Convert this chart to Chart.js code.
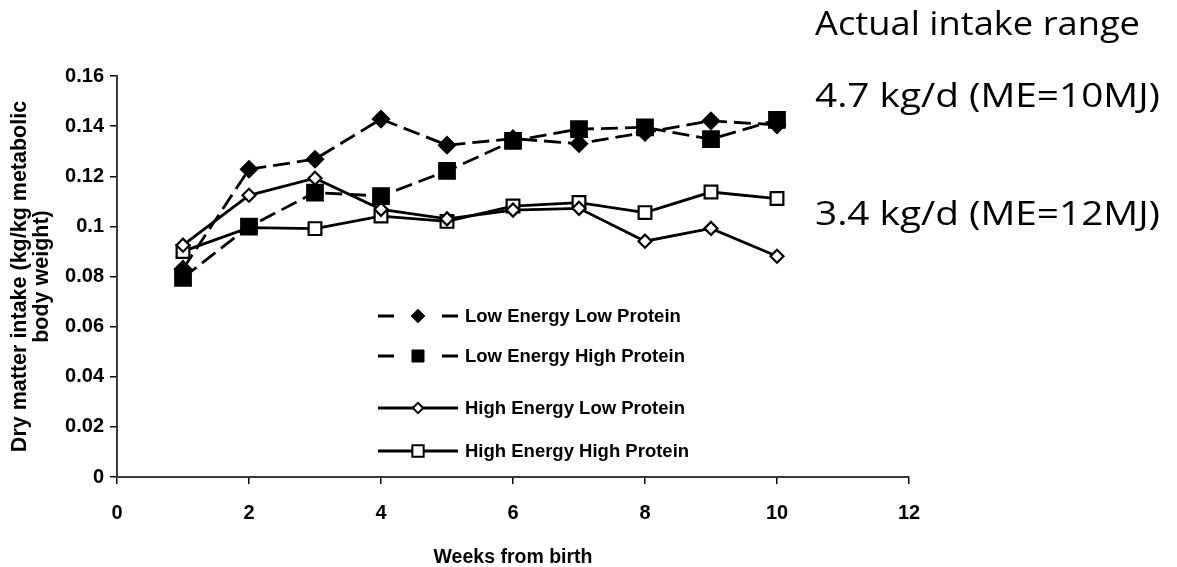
<!DOCTYPE html>
<html><head><meta charset="utf-8">
<script src="https://cdn.jsdelivr.net/npm/chart.js@4.4.1/dist/chart.umd.min.js"></script>
<style>html,body{margin:0;padding:0;background:#fff;overflow:hidden}#wrap{width:1177px;height:567px;position:relative}</style>
</head><body><div id="wrap"><canvas id="c" width="1177" height="567"></canvas></div>
<script>
const weeks = [1, 2, 3, 4, 5, 6, 7, 8, 9, 10];
const lowEnergyLowProtein   = [0.083, 0.1228, 0.1268, 0.1428, 0.1324, 0.1350, 0.1330, 0.1375, 0.1421, 0.1405];
const lowEnergyHighProtein  = [0.0795, 0.0999, 0.1135, 0.1121, 0.1221, 0.1341, 0.1388, 0.1395, 0.1348, 0.1425];
const highEnergyLowProtein  = [0.0925, 0.1124, 0.1192, 0.1068, 0.1030, 0.1065, 0.1072, 0.0941, 0.0992, 0.0881];
const highEnergyHighProtein = [0.0900, 0.0995, 0.0991, 0.1041, 0.1020, 0.1081, 0.1095, 0.1055, 0.1137, 0.1111];
const seriesNames = ['Low Energy Low Protein', 'Low Energy High Protein', 'High Energy Low Protein', 'High Energy High Protein'];
const xTickLabels = ['0', '2', '4', '6', '8', '10', '12'];
const yTickLabels = ['0', '0.02', '0.04', '0.06', '0.08', '0.1', '0.12', '0.14', '0.16'];
const xTitle = 'Weeks from birth';
const yTitle = ['Dry matter intake (kg/kg metabolic', 'body weight)'];
const noteLines = ['Actual intake range', '4.7 kg/d (ME=10MJ)', '3.4 kg/d (ME=12MJ)'];

const FONT = '"Liberation Sans", Arial, sans-serif';
const toPts = arr => weeks.map((w, i) => ({x: w, y: arr[i]}));

const styles = [
  {dash: [17, 7], shape: 'rectRot', r: 8.5, fill: '#000', bw: 1.5, lr: 6.8, lbw: 1},
  {dash: [17, 7], shape: 'rect', r: 11.5, fill: '#000', bw: 1.5, lr: 8.5, lbw: 1},
  {dash: [], shape: 'rectRot', r: 6.5, fill: '#fff', bw: 2.2, lr: 5.2, lbw: 2},
  {dash: [], shape: 'rect', r: 9, fill: '#fff', bw: 2.2, lr: 8.0, lbw: 2}
];
const seriesData = [lowEnergyLowProtein, lowEnergyHighProtein, highEnergyLowProtein, highEnergyHighProtein];

const datasets = seriesData.map((arr, i) => ({
  label: seriesNames[i],
  data: toPts(arr),
  borderColor: '#000',
  borderWidth: 2.8,
  borderDash: styles[i].dash,
  backgroundColor: styles[i].fill,
  pointStyle: styles[i].shape,
  pointRadius: styles[i].r,
  pointHoverRadius: styles[i].r,
  pointBackgroundColor: styles[i].fill,
  pointBorderColor: '#000',
  pointBorderWidth: styles[i].bw,
  tension: 0,
  fill: false,
  clip: false
}));

function drawMarker(ctx, shape, x, y, h, fill, bw) {
  ctx.save();
  ctx.beginPath();
  if (shape === 'rectRot') {
    ctx.moveTo(x - h, y); ctx.lineTo(x, y - h); ctx.lineTo(x + h, y); ctx.lineTo(x, y + h); ctx.closePath();
  } else {
    const s = h * Math.SQRT1_2;
    ctx.rect(x - s, y - s, 2 * s, 2 * s);
  }
  ctx.fillStyle = fill; ctx.fill();
  ctx.lineWidth = bw; ctx.strokeStyle = '#000'; ctx.stroke();
  ctx.restore();
}

const legendPlugin = {
  id: 'customLegend',
  afterDraw(chart) {
    const ctx = chart.ctx;
    const rows = [316, 356, 408, 451];
    ctx.save();
    seriesNames.forEach((name, i) => {
      const y = rows[i];
      const st = styles[i];
      ctx.strokeStyle = '#000';
      ctx.lineWidth = 2.8;
      ctx.setLineDash([]);
      ctx.beginPath();
      if (st.dash.length) {
        ctx.moveTo(378, y); ctx.lineTo(394, y);
        ctx.moveTo(442, y); ctx.lineTo(458, y);
      } else {
        ctx.moveTo(378, y); ctx.lineTo(458, y);
      }
      ctx.stroke();
      drawMarker(ctx, st.shape, 418, y, st.lr, st.fill, st.lbw);
      ctx.fillStyle = '#000';
      ctx.font = 'bold 18.5px ' + FONT;
      ctx.textBaseline = 'middle';
      ctx.textAlign = 'left';
      ctx.fillText(name, 465, y + 1);
    });
    ctx.restore();
  }
};

const notesPlugin = {
  id: 'notes',
  afterDraw(chart) {
    const ctx = chart.ctx;
    const baselines = [35, 107, 225];
    const widths = [325, 345, 345];
    ctx.save();
    ctx.fillStyle = '#000';
    ctx.font = '33px "Open Sans", "Noto Sans", sans-serif';
    ctx.textAlign = 'left';
    ctx.textBaseline = 'alphabetic';
    noteLines.forEach((t, i) => {
      const w = ctx.measureText(t).width;
      ctx.save();
      ctx.translate(815, baselines[i]);
      ctx.scale(widths[i] / w, 1);
      ctx.fillText(t, 0, 0);
      ctx.restore();
    });
    ctx.restore();
  }
};

new Chart(document.getElementById('c'), {
  type: 'line',
  data: {datasets},
  options: {
    responsive: false,
    animation: false,
    devicePixelRatio: 1,
    events: [],
    layout: {padding: {top: 76, right: 268, left: 0, bottom: 0}},
    plugins: {legend: {display: false}, tooltip: {enabled: false}, title: {display: false}},
    scales: {
      x: {
        type: 'linear', min: 0, max: 12,
        afterFit: s => { s.height = 90; },
        ticks: {stepSize: 2, color: '#000', font: {family: FONT, size: 20, weight: 'bold'}, padding: 17,
          callback: (v, i) => xTickLabels[i]},
        grid: {drawOnChartArea: false, drawTicks: true, tickLength: 7, color: '#000', lineWidth: 1.5},
        border: {display: true, color: '#3a3a3a', width: 2},
        title: {display: true, text: xTitle, color: '#000', font: {family: FONT, size: 19.5, weight: 'bold', lineHeight: 1}, padding: {top: 0, bottom: 0}}
      },
      y: {
        type: 'linear', min: 0, max: 0.16,
        afterFit: s => { s.width = 117; },
        ticks: {stepSize: 0.02, color: '#000', font: {family: FONT, size: 20, weight: 'bold'}, padding: 6,
          callback: (v, i) => yTickLabels[i]},
        grid: {drawOnChartArea: false, drawTicks: true, tickLength: 7, color: '#000', lineWidth: 1.5},
        border: {display: true, color: '#3a3a3a', width: 2},
        title: {display: true, text: yTitle, color: '#000', font: {family: FONT, size: 21.5, weight: 'bold', lineHeight: 1.02}, padding: {top: 9, bottom: 0}}
      }
    }
  },
  plugins: [legendPlugin, notesPlugin]
});
</script></body></html>
